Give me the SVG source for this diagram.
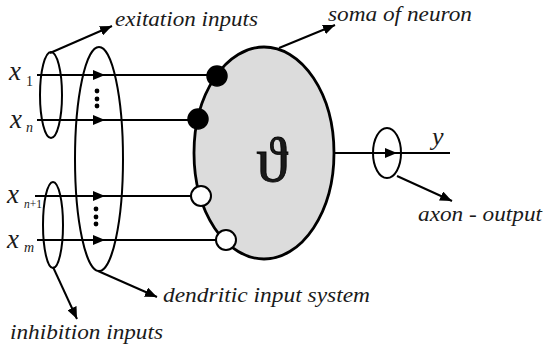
<svg xmlns="http://www.w3.org/2000/svg" width="544" height="347" viewBox="0 0 544 347">
<style>
.ln{stroke:#000;stroke-width:2;fill:none}
.ol{stroke:#000;stroke-width:2;fill:none}
text{fill:#1a1a1a}
</style>
<defs>
<marker id="ah" viewBox="0 0 12 10" refX="12" refY="5" markerWidth="12" markerHeight="10" markerUnits="userSpaceOnUse" orient="auto">
<path d="M0,0 L12,5 L0,10 Z" fill="#000"/>
</marker>
</defs>
<rect width="544" height="347" fill="#fff"/>
<g id="connectors">
<path class="ln" d="M37,75 L105,75 L217,75" marker-mid="url(#ah)"/>
<path class="ln" d="M37,120 L105,120 L198,120" marker-mid="url(#ah)"/>
<path class="ln" d="M35,196 L105,196 L201,196" marker-mid="url(#ah)"/>
<path class="ln" d="M37,240 L105,240 L226,240" marker-mid="url(#ah)"/>
<path class="ln" d="M334,153 L397,153 L450,153" marker-mid="url(#ah)"/>
<path class="ln" d="M50,53 L112,26" marker-end="url(#ah)"/>
<path class="ln" d="M279,48 L335,25" marker-end="url(#ah)"/>
<path class="ln" d="M397,176 L452,201" marker-end="url(#ah)"/>
<path class="ln" d="M98,271 L157,297" marker-end="url(#ah)"/>
<path class="ln" d="M53,267 L77,319" marker-end="url(#ah)"/>
</g>
<g id="soma">
<ellipse cx="264" cy="153" rx="70" ry="106" fill="#dcdcdc" stroke="#000" stroke-width="2.8"/>
<text x="272" y="181" text-anchor="middle" font-family="Liberation Serif, DejaVu Serif, serif" font-size="64" fill="#000" stroke="#000" stroke-width="0.8">ϑ</text>
</g>
<g id="synapses">
<circle cx="217" cy="76" r="10" fill="#000" stroke="#000" stroke-width="1.5"/>
<circle cx="198" cy="119" r="10" fill="#000" stroke="#000" stroke-width="1.5"/>
<circle cx="201" cy="196" r="10" fill="#fff" stroke="#000" stroke-width="2"/>
<circle cx="226" cy="240" r="10" fill="#fff" stroke="#000" stroke-width="2"/>
</g>
<g id="dendritic">
<ellipse class="ol" cx="99" cy="159" rx="24" ry="112"/>
<circle cx="97" cy="91" r="2.4"/><circle cx="97" cy="99" r="2.4"/><circle cx="97" cy="106" r="2.4"/>
<circle cx="96" cy="209" r="2.4"/><circle cx="96" cy="217" r="2.4"/><circle cx="96" cy="224" r="2.4"/>
</g>
<g id="excitation">
<ellipse class="ol" cx="51" cy="95" rx="11" ry="43"/>
</g>
<g id="inhibition">
<ellipse class="ol" cx="53" cy="225" rx="10" ry="43"/>
</g>
<g id="axon">
<ellipse class="ol" cx="387" cy="153" rx="14" ry="25"/>
</g>
<g id="labels" font-family="Liberation Serif, serif" font-style="italic">
<text x="115" y="26" font-size="22" textLength="143" lengthAdjust="spacingAndGlyphs">exitation inputs</text>
<text x="328" y="21" font-size="22" textLength="144" lengthAdjust="spacingAndGlyphs">soma of neuron</text>
<text x="418" y="221" font-size="22" textLength="124" lengthAdjust="spacingAndGlyphs">axon - output</text>
<text x="163" y="302" font-size="22" textLength="207" lengthAdjust="spacingAndGlyphs">dendritic input system</text>
<text x="10" y="339" font-size="22" textLength="153" lengthAdjust="spacingAndGlyphs">inhibition inputs</text>
<text x="432" y="145" font-size="26">y</text>
<text x="9" y="80" font-size="27">x</text><text x="26" y="86" font-size="14" font-style="normal">1</text>
<text x="10" y="128" font-size="27">x</text><text x="26" y="132" font-size="14">n</text>
<text x="7" y="203" font-size="27">x</text><text x="24" y="208" font-size="13" textLength="18" lengthAdjust="spacingAndGlyphs">n<tspan font-style="normal">+1</tspan></text>
<text x="7" y="248" font-size="27">x</text><text x="24" y="252" font-size="14">m</text>
</g>
</svg>
